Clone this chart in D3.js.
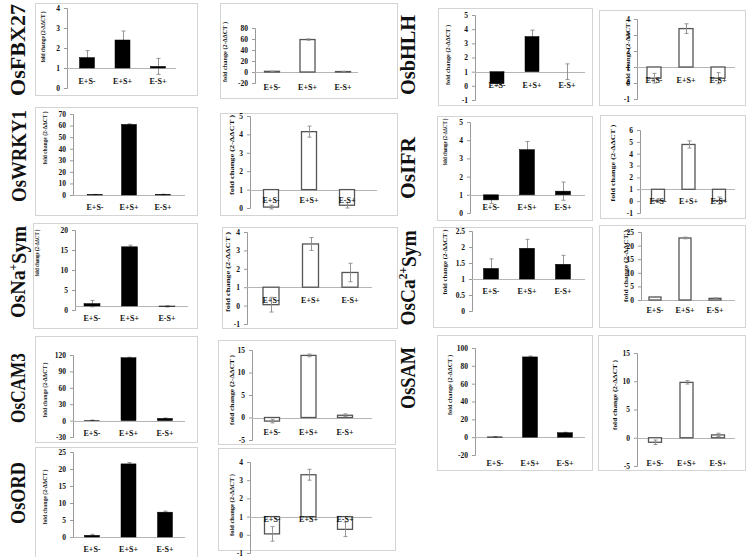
<!DOCTYPE html>
<html><head><meta charset="utf-8">
<script src="https://cdn.jsdelivr.net/npm/d3@7"></script>
<style>body{margin:0;background:#fff}svg{display:block}</style></head>
<body><svg id="c" width="748" height="557"></svg>
<script>
// ---------------- DATA ----------------
const categories = ["E+S-", "E+S+", "E-S+"];
const genes = ["OsFBX27", "OsWRKY1", "OsNa+Sym", "OsCAM3", "OsORD", "OsbHLH", "OsIFR", "OsCa2+Sym", "OsSAM"];
const geneLabelMain = ["OsFBX27", "OsWRKY1", "OsNa", "OsCAM3", "OsORD", "OsbHLH", "OsIFR", "OsCa", "OsSAM"];
const geneLabelSup = ["", "", "+", "", "", "", "", "2+", ""];
const geneLabelTail = ["", "", "Sym", "", "", "", "", "Sym", ""];

// black-bar panels (left of each pair)
const blackValues = [
  [1.52, 2.40, 1.08], [0.3, 61, 0.4], [1.6, 15.8, 0.9], [0.5, 115, 4], [0.5, 21.5, 7.3],
  [0.15, 3.48, 1.0], [0.72, 3.48, 1.2], [1.33, 1.96, 1.46], [0.3, 90, 5]
];
const blackErrors = [
  [0.35, 0.45, 0.4], [0.2, 0.5, 0.3], [0.8, 0.4, 0.15], [0.5, 1, 0.8], [0.3, 0.4, 0.3],
  [0.15, 0.45, 0.55], [0.2, 0.45, 0.5], [0.3, 0.28, 0.28], [0.3, 1, 0.5]
];
const blackDomains = [[0, 4], [0, 70], [0, 20], [-30, 120], [0, 25], [-1, 5], [0, 5], [0, 2.5], [-20, 100]];
const blackTickStep = [1, 10, 5, 30, 5, 1, 1, 0.5, 20];
const blackBaseline = [1, 0, 1, 0, 0, 1, 1, 1, 0];

// white-bar panels (right of each pair)
const whiteValues = [
  [1.2, 59, 0.8], [0.05, 4.15, 0.15], [0.05, 3.35, 1.8], [-0.8, 13.8, 0.5], [0.05, 3.3, 0.3],
  [0.3, 3.4, 0.3], [0.05, 4.78, 0.05], [1.1, 22.8, 0.6], [-0.8, 9.8, 0.5]
];
const whiteErrors = [
  [0.3, 1.2, 0.5], [0.1, 0.3, 0.15], [0.4, 0.35, 0.5], [0.4, 0.3, 0.3], [0.4, 0.3, 0.4],
  [0.3, 0.3, 0.35], [0.15, 0.3, 0.3], [0.15, 0.3, 0.2], [0.4, 0.3, 0.3]
];
const whiteDomains = [[-20, 80], [0, 5], [-1, 4], [-5, 15], [-1, 4], [-1, 4], [-1, 6], [0, 25], [-5, 15]];
const whiteTickStep = [20, 1, 1, 5, 1, 1, 1, 5, 5];
const whiteBaseline = [0, 1, 1, 0, 1, 1, 1, 0, 0];

const axisTitle = "fold change (2-ΔΔCT )";

// ---------------- LAYOUT ----------------
const geneLabelPos = [[17,50,92],[18,156,92],[17,272,92],[17,388,70],[17,493,62],[407,55,80],[407,168,62],[407,278,95],[407,378,62]];
const blackLayout = [
  {box:[35,3,162,92], ax:67, c:[87,158], end:176, py:[88,8], bw:15, ly:81, tx:43, ty:37, tl:51},
  {box:[35,107,162,108], ax:73, c:[95,163], end:185, py:[195,114], bw:15, ly:207, tx:45, ty:138, tl:53},
  {box:[33,223,164,105], ax:75, c:[92,167], end:188, py:[310,230], bw:16, ly:318, tx:37, ty:253, tl:47},
  {box:[35,336,162,106], ax:73, c:[92,165], end:185, py:[437,355], bw:15, ly:433, tx:45, ty:390, tl:55},
  {box:[35,447,162,110], ax:73, c:[92,165], end:185, py:[537,452], bw:15, ly:549, tx:45, ty:497, tl:55},
  {box:[438,8,154,97], ax:475, c:[497,567], end:585, py:[100,15], bw:14, ly:85, tx:448, ty:55, tl:60},
  {box:[437,116,155,104], ax:470, c:[491,563], end:585, py:[213,122], bw:15, ly:207, tx:445, ty:142, tl:47},
  {box:[433,227,159,100], ax:472, c:[491,563], end:585, py:[311,231], bw:15, ly:291, tx:445, ty:262, tl:65},
  {box:[437,335,155,135], ax:475, c:[495,565], end:585, py:[455,348], bw:15, ly:463, tx:450, ty:385, tl:60}
];
const whiteLayout = [
  {box:[220,3,177,95], ax:255, c:[272,343], end:358, py:[83,28], bw:15, ly:87, tx:225, ty:52, tl:60},
  {box:[220,113,177,102], ax:250, c:[271,347], end:377, py:[208,116], bw:15, ly:200, tx:232, ty:155, tl:80},
  {box:[222,227,175,101], ax:247, c:[271,350], end:372, py:[324,232], bw:16, ly:300, tx:228, ty:272, tl:80},
  {box:[218,340,177,104], ax:252, c:[272,345], end:372, py:[440,350], bw:15, ly:432, tx:232, ty:390, tl:70},
  {box:[218,448,177,102], ax:250, c:[272,345], end:372, py:[553,462], bw:15, ly:519, tx:232, ty:505, tl:62},
  {box:[599,10,146,95], ax:637, c:[654,718], end:735, py:[99,19], bw:14, ly:80, tx:628, ty:52, tl:65},
  {box:[600,115,145,103], ax:640, c:[658,719], end:735, py:[213,130], bw:13, ly:201, tx:613, ty:163, tl:77},
  {box:[599,225,146,102], ax:641, c:[655,715], end:735, py:[300,232], bw:12, ly:310, tx:626, ty:266, tl:72},
  {box:[598,335,147,135], ax:637, c:[655,718], end:735, py:[466,353], bw:13, ly:463, tx:615, ty:395, tl:70}
];

// ---------------- DRAW ----------------
const svg = d3.select("#c");
const serif = "'Liberation Serif','Times New Roman',serif";

function drawPanel(L, values, errors, domain, step, base, black) {
  const g = svg.append("g");
  g.append("rect").attr("x", L.box[0] + 0.5).attr("y", L.box[1] + 0.5)
    .attr("width", L.box[2]).attr("height", L.box[3])
    .attr("fill", "#fff").attr("stroke", "#d4d4d4").attr("stroke-width", 1);
  const y = d3.scaleLinear().domain(domain).range(L.py);
  const x = d3.scalePoint().domain(categories).range(L.c);
  const ticks = d3.range(domain[0], domain[1] + step / 2, step).map(v => +v.toFixed(2));
  const axis = d3.axisLeft(y).tickValues(ticks).tickSize(3).tickPadding(4)
    .tickFormat(d => (d < 0 ? "-" : "") + Math.abs(d));
  const ag = g.append("g").attr("transform", `translate(${L.ax},0)`).call(axis);
  ag.select(".domain").attr("stroke", "#9a9a9a");
  ag.selectAll(".tick line").attr("stroke", "#9a9a9a");
  ag.selectAll(".tick text").attr("font-family", serif).attr("font-weight", "bold")
    .attr("font-size", 7.5).attr("fill", "#111");
  g.append("line").attr("x1", L.ax).attr("x2", L.end)
    .attr("y1", Math.round(y(base)) + 0.5).attr("y2", Math.round(y(base)) + 0.5)
    .attr("stroke", "#b5b5b5").attr("stroke-width", 1);
  const data = categories.map((c, i) => ({c, v: values[i], e: errors[i]}));
  const drawErr = () => {
    const eg = g.append("g").attr("stroke", "#8a8a8a").attr("stroke-width", 0.9);
    data.forEach(d => {
      const cx = Math.round(x(d.c)) + 0.5;
      eg.append("line").attr("x1", cx).attr("x2", cx).attr("y1", y(d.v - d.e)).attr("y2", y(d.v + d.e));
      [d.v - d.e, d.v + d.e].forEach(v => eg.append("line").attr("x1", cx - 2).attr("x2", cx + 2)
        .attr("y1", y(v)).attr("y2", y(v)));
    });
  };
  if (black) drawErr();
  g.selectAll("rect.bar").data(data).join("rect").attr("class", "bar")
    .attr("x", d => x(d.c) - L.bw / 2)
    .attr("y", d => Math.min(y(d.v), y(base)))
    .attr("width", L.bw)
    .attr("height", d => Math.abs(y(d.v) - y(base)))
    .attr("fill", black ? "#000" : "#fff")
    .attr("stroke", black ? "#000" : "#555").attr("stroke-width", black ? 0.5 : 1.3);
  if (!black) drawErr();
  g.selectAll("text.cat").data(categories).join("text").attr("class", "cat")
    .attr("x", d => x(d)).attr("y", L.ly).attr("dy", "0.35em")
    .attr("text-anchor", "middle").attr("font-family", serif).attr("font-weight", "bold")
    .attr("font-size", 8).attr("fill", "#111").text(d => d);
  g.append("text").attr("transform", `translate(${L.tx},${L.ty}) rotate(-90)`)
    .attr("text-anchor", "middle").attr("dy", "0.35em")
    .attr("font-family", serif).attr("font-weight", "bold").attr("font-size", 6.5)
    .attr("textLength", L.tl).attr("lengthAdjust", "spacingAndGlyphs")
    .attr("fill", "#111").text(axisTitle);
}

genes.forEach((gname, i) => {
  drawPanel(blackLayout[i], blackValues[i], blackErrors[i], blackDomains[i], blackTickStep[i], blackBaseline[i], true);
  drawPanel(whiteLayout[i], whiteValues[i], whiteErrors[i], whiteDomains[i], whiteTickStep[i], whiteBaseline[i], false);
  const p = geneLabelPos[i];
  const t = svg.append("text").attr("transform", `translate(${p[0]},${p[1]}) rotate(-90)`)
    .attr("text-anchor", "middle").attr("dy", "0.35em")
    .attr("font-family", serif).attr("font-weight", "bold").attr("font-size", 22).attr("fill", "#111")
    .attr("textLength", p[2]).attr("lengthAdjust", "spacingAndGlyphs");
  t.append("tspan").text(geneLabelMain[i]);
  if (geneLabelSup[i]) {
    t.append("tspan").attr("font-size", 13).attr("dy", "-0.6em").text(geneLabelSup[i]);
    t.append("tspan").attr("dy", "0.4em").text(geneLabelTail[i]);
  }
});
</script></body></html>
